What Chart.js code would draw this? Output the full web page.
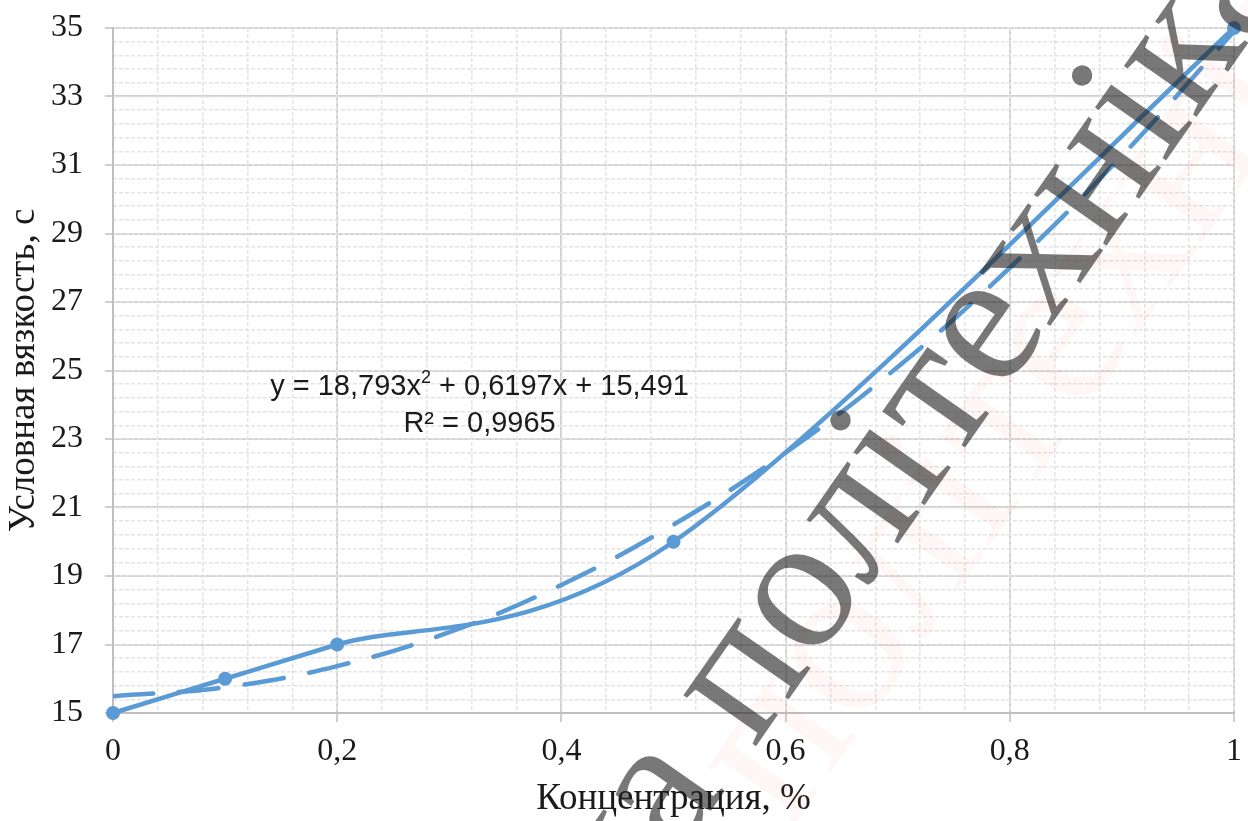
<!DOCTYPE html>
<html>
<head>
<meta charset="utf-8">
<script src="https://cdn.jsdelivr.net/npm/chart.js@4.4.1/dist/chart.umd.min.js"></script>
<style>
  html, body { margin: 0; padding: 0; background: #fff; }
  #wrap { width: 1248px; height: 821px; }
</style>
</head>
<body>
<div id="wrap"><canvas id="myChart" width="1248" height="821"></canvas></div>
<script>
// measured points
const concentration = [0, 0.1, 0.2, 0.5, 1];
const viscosity = [15, 16, 17, 20, 35];

// polynomial trendline
const trendX = [0, 0.1, 0.2, 0.3, 0.4, 0.5, 0.6, 0.7, 0.8, 0.9, 1];
const trendY = [15.49, 15.75, 16.37, 17.36, 18.74, 20.5, 22.6, 25.1, 28.0, 31.27, 34.9];

const xTicks = [0, 0.2, 0.4, 0.6, 0.8, 1];
const yTicks = [15, 17, 19, 21, 23, 25, 27, 29, 31, 33, 35];

const equationText = ['y = 18,793x', '2', ' + 0,6197x + 15,491'];
const r2Text = 'R² = 0,9965';
const watermarkBefore = 'Одеська ';
const watermarkText = 'політехніка';

const blue = '#5B9BD5';
const serif = '"Liberation Serif", "Times New Roman", serif';
const sans = '"Liberation Sans", Arial, sans-serif';

// Excel style smoothing: control points at 1/6 of the neighbour span
const excelSmooth = {
    id: 'excelSmooth',
    beforeDatasetDraw(chart, args) {
        if (args.index !== 0) return;
        const meta = args.meta;
        meta.dataset.updateControlPoints(chart.chartArea);
        const pts = meta.data;
        for (let i = 0; i < pts.length; i++) {
            const prev = pts[Math.max(i - 1, 0)];
            const next = pts[Math.min(i + 1, pts.length - 1)];
            const dx = (next.x - prev.x) / 6;
            const dy = (next.y - prev.y) / 6;
            pts[i].cp1x = pts[i].x - dx;
            pts[i].cp1y = pts[i].y - dy;
            pts[i].cp2x = pts[i].x + dx;
            pts[i].cp2y = pts[i].y + dy;
        }
    }
};

// equation label and watermark on top of the plot
const overlayPlugin = {
    id: 'overlay',
    afterDraw(chart) {
        const ctx = chart.ctx;
        const xs = chart.scales.x, ys = chart.scales.y;

        // trendline equation
        ctx.save();
        ctx.fillStyle = '#1a1a1a';
        ctx.textBaseline = 'alphabetic';
        const cx = xs.getPixelForValue(0.327);
        const cy = ys.getPixelForValue(24.28);
        ctx.font = '29px ' + sans;
        const w1 = ctx.measureText(equationText[0]).width;
        const w3 = ctx.measureText(equationText[2]).width;
        ctx.font = '18px ' + sans;
        const w2 = ctx.measureText(equationText[1]).width;
        const x0 = cx - (w1 + w2 + w3) / 2;
        ctx.font = '29px ' + sans;
        ctx.fillText(equationText[0], x0, cy);
        ctx.font = '18px ' + sans;
        ctx.fillText(equationText[1], x0 + w1, cy - 12);
        ctx.font = '29px ' + sans;
        ctx.fillText(equationText[2], x0 + w1 + w2, cy);
        ctx.textAlign = 'center';
        ctx.fillText(r2Text, cx, cy + 37);
        ctx.restore();

        // watermark: faint pink shadow, then grey text
        ctx.save();
        ctx.font = '225px ' + serif;
        ctx.translate(790, 830);
        ctx.rotate(-55 * Math.PI / 180);
        ctx.fillStyle = 'rgba(255, 70, 70, 0.05)';
        ctx.fillText(watermarkText, 0, 0);
        ctx.restore();

        ctx.save();
        ctx.font = '193px ' + serif;
        ctx.translate(754, 749);
        ctx.rotate(-55 * Math.PI / 180);
        ctx.fillStyle = 'rgba(30, 30, 30, 0.6)';
        ctx.textAlign = 'left';
        ctx.fillText(watermarkText, 0, 0);
        ctx.textAlign = 'right';
        ctx.fillText(watermarkBefore, 0, 0);
        ctx.restore();
    }
};

// drop the label overhang padding so the plot area sits where the original is
function noOverhang(axis) {
    axis.paddingTop = 0;
    axis.paddingBottom = 0;
    axis.paddingLeft = 0;
    axis.paddingRight = 0;
}

const ctx = document.getElementById('myChart').getContext('2d');

const myChart = new Chart(ctx, {
    type: 'scatter',
    data: {
        datasets: [{
            label: 'Вязкость',
            data: concentration.map((c, i) => ({ x: c, y: viscosity[i] })),
            showLine: true,
            borderColor: blue,
            backgroundColor: blue,
            borderWidth: 4.5,
            tension: 0.3,
            pointRadius: 7,
            pointBorderWidth: 0,
            clip: false,
            order: 1
        }, {
            label: 'Тренд',
            data: trendX.map((c, i) => ({ x: c, y: trendY[i] })),
            showLine: true,
            borderColor: blue,
            borderWidth: 4.5,
            borderDash: [40, 26],
            borderCapStyle: 'round',
            tension: 0.4,
            pointRadius: 0,
            order: 2
        }]
    },
    options: {
        responsive: false,
        animation: false,
        layout: { padding: { top: 28, right: 14, left: 2, bottom: 0 } },
        plugins: {
            legend: { display: false },
            tooltip: { enabled: false }
        },
        scales: {
            x: {
                type: 'linear',
                position: 'bottom',
                min: 0,
                max: 1,
                z: -1,
                afterBuildTicks: axis => { axis.ticks = xTicks.map(v => ({ value: v })); },
                afterFit: axis => { axis.height = 108; noOverhang(axis); },
                ticks: {
                    font: { family: serif, size: 32 },
                    color: '#1a1a1a',
                    padding: 10,
                    callback: v => String(v).replace('.', ',')
                },
                grid: { color: '#d0d0d0', lineWidth: 2, tickLength: 9 },
                border: { color: '#bfbfbf', width: 2 },
                title: {
                    display: true,
                    text: 'Концентрация, %',
                    font: { family: serif, size: 37 },
                    color: '#1a1a1a',
                    padding: { top: 6, bottom: 0 }
                }
            },
            y: {
                type: 'linear',
                position: 'left',
                min: 15,
                max: 35,
                z: -1,
                afterBuildTicks: axis => { axis.ticks = yTicks.map(v => ({ value: v })); },
                afterFit: axis => { axis.width = 111; noOverhang(axis); },
                ticks: {
                    font: { family: serif, size: 32 },
                    color: '#1a1a1a',
                    padding: 22
                },
                grid: { color: '#d0d0d0', lineWidth: 2, tickLength: 8 },
                border: { color: '#bfbfbf', width: 2 },
                title: {
                    display: true,
                    text: 'Условная вязкость, с',
                    font: { family: serif, size: 37, lineHeight: 1 },
                    color: '#1a1a1a',
                    padding: { top: 4, bottom: 8 }
                }
            },
            xMinor: {
                type: 'linear',
                position: 'top',
                min: 0,
                max: 1,
                z: -2,
                afterFit: axis => { axis.height = 0; noOverhang(axis); },
                ticks: { display: false, stepSize: 0.04 },
                grid: { color: '#e4e4e4', lineWidth: 1.5, drawTicks: false },
                border: { display: false, dash: [4, 2] }
            },
            yMinor: {
                type: 'linear',
                position: 'right',
                min: 15,
                max: 35,
                z: -2,
                afterFit: axis => { axis.width = 0; noOverhang(axis); },
                ticks: { display: false, stepSize: 0.4 },
                grid: { color: '#e4e4e4', lineWidth: 1.5, drawTicks: false },
                border: { display: false, dash: [4, 2] }
            }
        }
    },
    plugins: [excelSmooth, overlayPlugin]
});
</script>
</body>
</html>
